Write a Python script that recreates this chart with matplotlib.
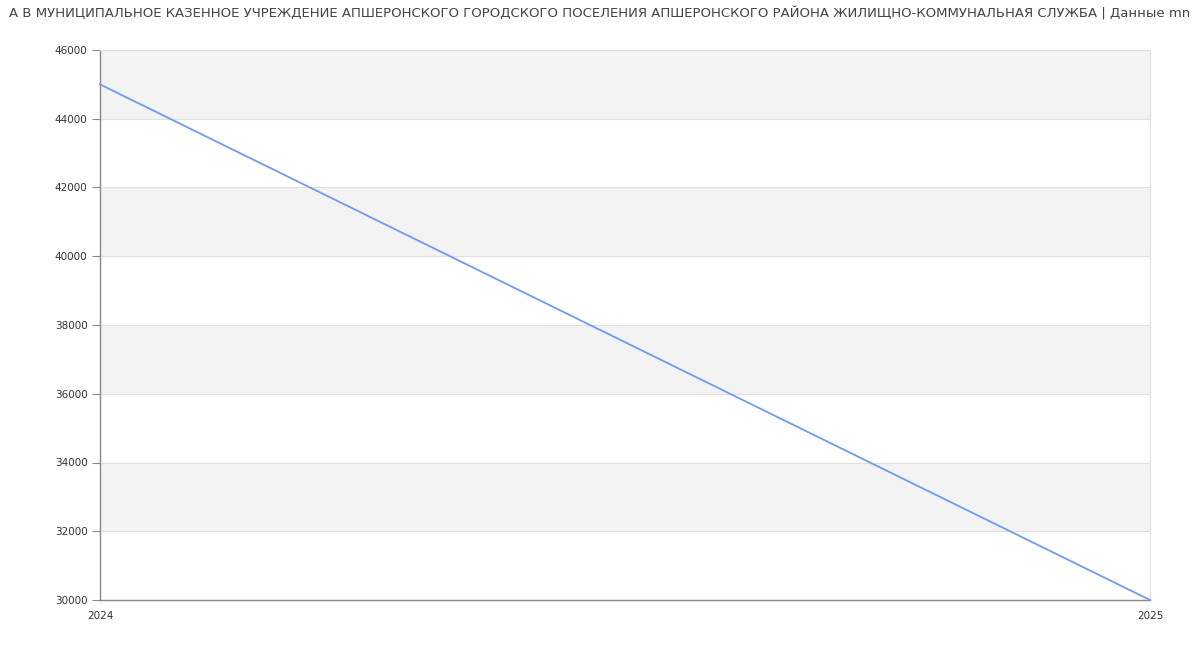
import matplotlib
matplotlib.use("Agg")
import matplotlib.pyplot as plt

title = ("А В МУНИЦИПАЛЬНОЕ КАЗЕННОЕ УЧРЕЖДЕНИЕ АПШЕРОНСКОГО ГОРОДСКОГО ПОСЕЛЕНИЯ "
         "АПШЕРОНСКОГО РАЙОНА ЖИЛИЩНО-КОММУНАЛЬНАЯ СЛУЖБА | Данные mn")
years = [2024, 2025]
values = [45000, 30000]
y_ticks = [30000, 32000, 34000, 36000, 38000, 40000, 42000, 44000, 46000]

plt.rcParams['font.family'] = ['DejaVu Sans']
fig = plt.figure(figsize=(12, 6.5), dpi=100)
ax = fig.add_axes([100/1200, 50/650, 1050/1200, 550/650])

ax.set_xlim(years[0], years[-1])
ax.set_ylim(y_ticks[0], y_ticks[-1])

# alternating bands
for i in range(len(y_ticks) - 1):
    if i % 2 == 1:
        ax.axhspan(y_ticks[i], y_ticks[i + 1], color='#f3f3f3', zorder=0, lw=0)
for t in y_ticks[1:]:
    ax.axhline(t, color='#e0e0e0', lw=0.8, zorder=1)

ax.plot(years, values, color='#6d9cf2', lw=1.3, zorder=3, clip_on=False)

ax.set_yticks(y_ticks)
ax.set_yticklabels([str(t) for t in y_ticks])
ax.set_xticks(years)
ax.set_xticklabels([str(y) for y in years])

ax.tick_params(axis='y', length=6, width=0.8, color='#888888', labelsize=7.5,
               labelcolor='#333333', pad=3)
ax.tick_params(axis='x', length=0, labelsize=7.5, labelcolor='#333333', pad=8)

for s in ['left', 'bottom']:
    ax.spines[s].set_color('#888888')
    ax.spines[s].set_linewidth(1.0)
ax.spines['right'].set_color('#e0e0e0')
ax.spines['right'].set_linewidth(0.8)
ax.spines['top'].set_color('#e0e0e0')
ax.spines['top'].set_linewidth(0.8)

fig.text(0.5, 1 - 13/650, title, ha='center', va='center', fontsize=9.55,
         color='#444444')

fig.savefig('out.png', dpi=100, facecolor='white')
